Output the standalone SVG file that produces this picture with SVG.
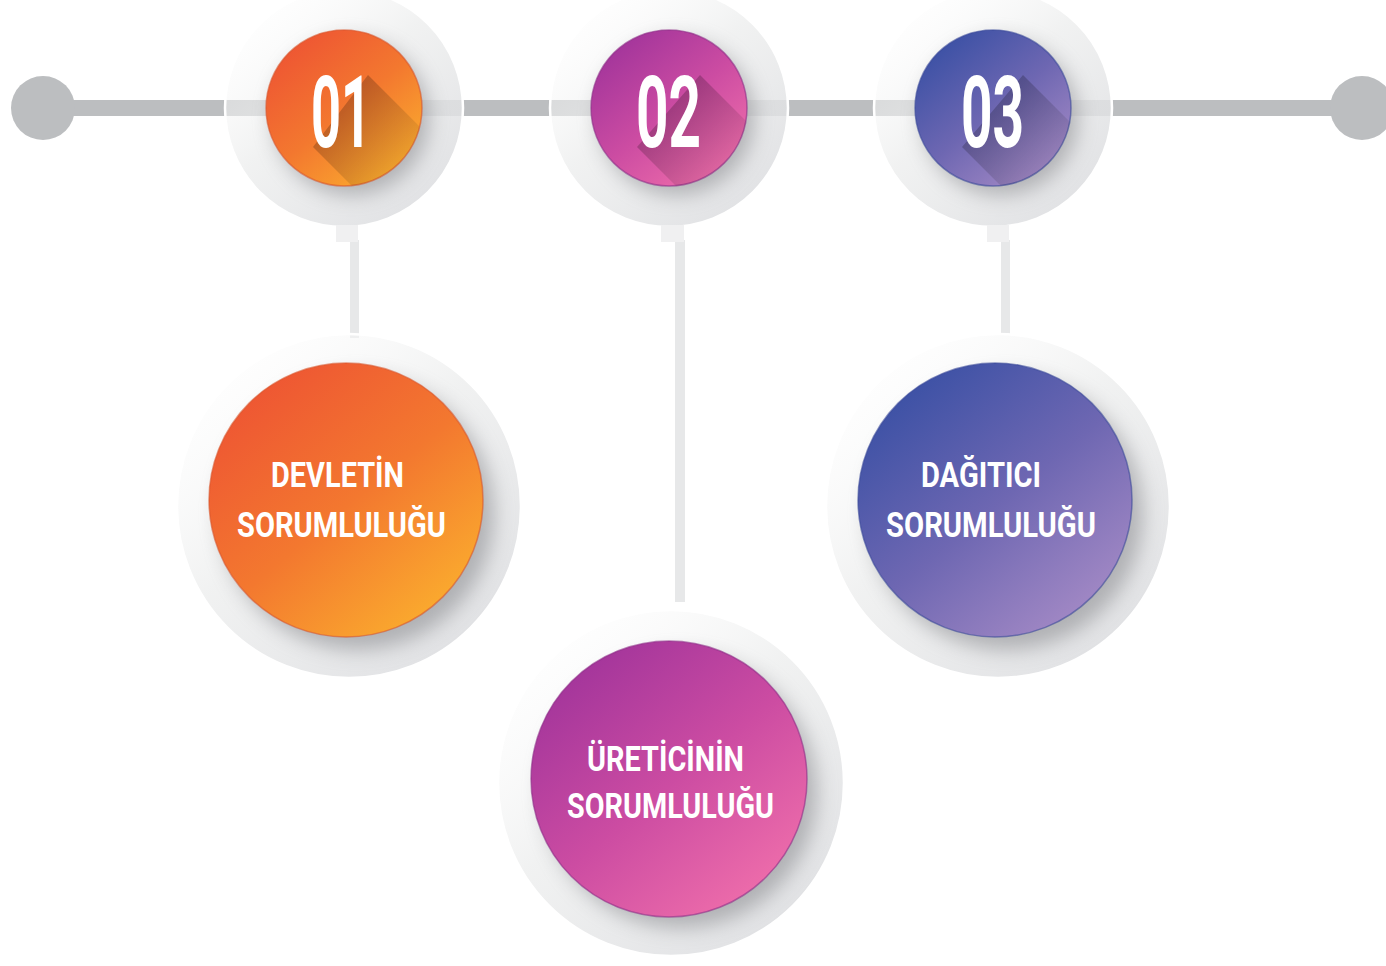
<svg xmlns="http://www.w3.org/2000/svg" width="1386" height="966" viewBox="0 0 1386 966">
<style>
.halo{fill:url(#gHalo);stroke:#ffffff;stroke-width:2.5}
.shadow{fill:#7a7c80;opacity:.5}
.num{font-family:Roboto,'Liberation Sans',sans-serif;font-weight:700;font-size:100px;fill:#ffffff;text-anchor:middle}
.lbl{font-family:Roboto,'Liberation Sans',sans-serif;font-weight:700;font-size:35px;fill:#ffffff;text-anchor:middle}
.stem{fill:#e7e8e9}
.neck{fill:#f0f0f1}
.track{fill:#bcbec0}
</style>
<defs>
<linearGradient id="gHalo" x1="0.1" y1="0.05" x2="0.85" y2="0.95">
<stop offset="0" stop-color="#ffffff" stop-opacity="0.3"/>
<stop offset="0.45" stop-color="#eceded" stop-opacity="0.75"/>
<stop offset="1" stop-color="#dcdde0" stop-opacity="0.9"/>
</linearGradient>
<linearGradient id="gO" x1="0.15" y1="0.1" x2="0.85" y2="0.95">
<stop offset="0" stop-color="#ee5633"/>
<stop offset="0.5" stop-color="#f3782f"/>
<stop offset="1" stop-color="#fbaf2e"/>
</linearGradient>
<linearGradient id="gM" x1="0.15" y1="0.1" x2="0.85" y2="0.95">
<stop offset="0" stop-color="#a3359b"/>
<stop offset="0.5" stop-color="#cc4ca2"/>
<stop offset="1" stop-color="#f06fab"/>
</linearGradient>
<linearGradient id="gV" x1="0.15" y1="0.1" x2="0.85" y2="0.95">
<stop offset="0" stop-color="#3c51a5"/>
<stop offset="0.5" stop-color="#6e67b2"/>
<stop offset="1" stop-color="#a68bc6"/>
</linearGradient>
<linearGradient id="gLong" x1="0" y1="0" x2="1" y2="1">
<stop offset="0" stop-color="#000000" stop-opacity="0.3"/>
<stop offset="0.7" stop-color="#000000" stop-opacity="0"/>
</linearGradient>
<filter id="blur" x="-50%" y="-50%" width="200%" height="200%">
<feGaussianBlur stdDeviation="10"/>
</filter>
<clipPath id="c01"><circle cx="344" cy="108" r="78"/></clipPath>
<clipPath id="c02"><circle cx="669" cy="108" r="78"/></clipPath>
<clipPath id="c03"><circle cx="993" cy="108" r="78"/></clipPath>
</defs>
<rect width="1386" height="966" fill="#ffffff"/>

<g id="connectors">
<rect class="track" x="43" y="100" width="1319" height="16"/>
<circle class="track" cx="43" cy="108" r="32"/>
<circle class="track" cx="1362" cy="108" r="32"/>
<rect class="stem" x="350" y="240" width="9" height="98"/>
<rect class="stem" x="675" y="240" width="10" height="362"/>
<rect class="stem" x="1001" y="240" width="9" height="95"/>
</g>

<g id="n01">
<circle class="halo" cx="344" cy="108" r="119"/>
<rect class="neck" x="336" y="225" width="22" height="17"/>
<circle class="shadow" cx="351" cy="117" r="78" filter="url(#blur)"/>
<circle cx="344" cy="108" r="78" fill="url(#gO)" stroke="#d9552b" stroke-opacity=".6" stroke-width="1.5"/>
<polygon clip-path="url(#c01)" points="368,75 460,167 405,239 313,147" fill="url(#gLong)"/>
<text class="num" x="341" y="147" textLength="60" lengthAdjust="spacingAndGlyphs">01</text>
</g>

<g id="n02">
<circle class="halo" cx="669" cy="108" r="119"/>
<rect class="neck" x="661" y="225" width="23" height="17"/>
<circle class="shadow" cx="676" cy="117" r="78" filter="url(#blur)"/>
<circle cx="669" cy="108" r="78" fill="url(#gM)" stroke="#8e2d87" stroke-opacity=".6" stroke-width="1.5"/>
<polygon clip-path="url(#c02)" points="700,75 792,167 729,239 637,147" fill="url(#gLong)"/>
<text class="num" x="668.5" y="147" textLength="65" lengthAdjust="spacingAndGlyphs">02</text>
</g>

<g id="n03">
<circle class="halo" cx="993" cy="108" r="119"/>
<rect class="neck" x="987" y="225" width="22" height="17"/>
<circle class="shadow" cx="1000" cy="117" r="78" filter="url(#blur)"/>
<circle cx="993" cy="108" r="78" fill="url(#gV)" stroke="#3a4a9a" stroke-opacity=".6" stroke-width="1.5"/>
<polygon clip-path="url(#c03)" points="1023,75 1115,167 1054,239 962,147" fill="url(#gLong)"/>
<text class="num" x="992.5" y="147" textLength="63" lengthAdjust="spacingAndGlyphs">03</text>
</g>

<g id="devlet">
<circle class="halo" cx="349" cy="506" r="172"/>
<circle class="shadow" cx="357" cy="513" r="137" filter="url(#blur)"/>
<circle cx="346" cy="500" r="137" fill="url(#gO)" stroke="#d9552b" stroke-opacity=".6" stroke-width="1.5"/>
<text class="lbl" x="337.5" y="487" textLength="133" lengthAdjust="spacingAndGlyphs">DEVLETİN</text>
<text class="lbl" x="341.5" y="537" textLength="209" lengthAdjust="spacingAndGlyphs">SORUMLULUĞU</text>
</g>

<g id="uretici">
<circle class="halo" cx="671" cy="783" r="173"/>
<circle class="shadow" cx="680" cy="791" r="137" filter="url(#blur)"/>
<circle cx="669" cy="779" r="138" fill="url(#gM)" stroke="#8e2d87" stroke-opacity=".6" stroke-width="1.5"/>
<text class="lbl" x="665.5" y="771" textLength="157" lengthAdjust="spacingAndGlyphs">ÜRETİCİNİN</text>
<text class="lbl" x="670.5" y="818" textLength="207" lengthAdjust="spacingAndGlyphs">SORUMLULUĞU</text>
</g>

<g id="dagitici">
<circle class="halo" cx="998" cy="506" r="172"/>
<circle class="shadow" cx="1006" cy="513" r="137" filter="url(#blur)"/>
<circle cx="995" cy="500" r="137" fill="url(#gV)" stroke="#3a4a9a" stroke-opacity=".6" stroke-width="1.5"/>
<text class="lbl" x="981" y="487" textLength="120" lengthAdjust="spacingAndGlyphs">DAĞITICI</text>
<text class="lbl" x="991" y="537" textLength="210" lengthAdjust="spacingAndGlyphs">SORUMLULUĞU</text>
</g>
</svg>
